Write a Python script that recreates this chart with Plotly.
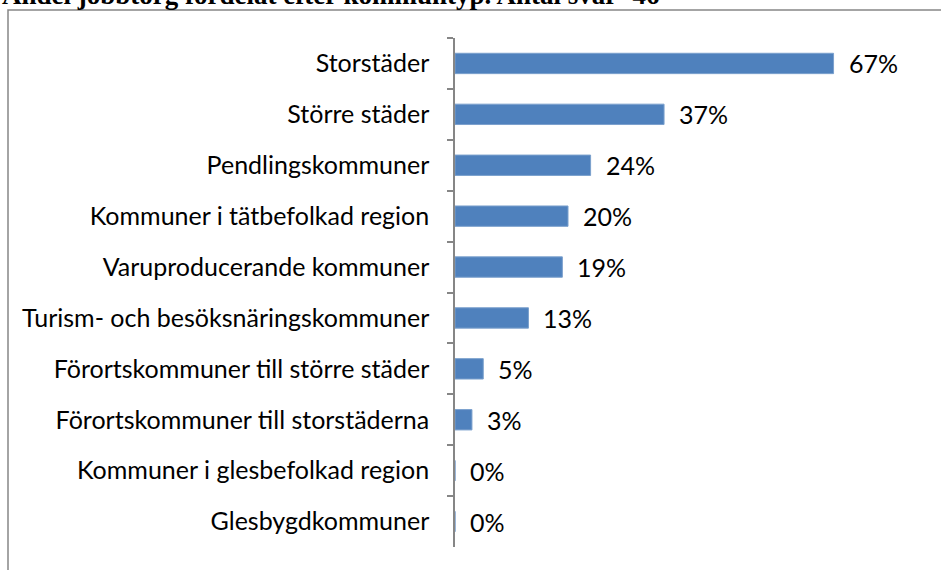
import plotly.graph_objects as go

categories = [
    "Storstäder",
    "Större städer",
    "Pendlingskommuner",
    "Kommuner i tätbefolkad region",
    "Varuproducerande kommuner",
    "Turism- och besöksnäringskommuner",
    "Förortskommuner till större städer",
    "Förortskommuner till storstäderna",
    "Kommuner i glesbefolkad region",
    "Glesbygdkommuner",
]
values = [67, 37, 24, 20, 19, 13, 5, 3, 0, 0]
value_labels = [f"{v}%" for v in values]
title_text = "Andel jobbtorg fördelat efter kommuntyp. Antal svar=46"

W, H = 941, 570
ML, MR, MT, MB = 455, 34, 38, 23
LABEL_FONT = dict(family="Lato, Carlito, sans-serif", size=25, color="#000000")

fig = go.Figure()
fig.add_trace(go.Bar(
    y=categories,
    x=values,
    orientation="h",
    marker=dict(color="#4F81BD", line=dict(color="#7BA0CD", width=1)),
    width=0.4,
    hoverinfo="skip",
))

for c, v, t in zip(categories, values, value_labels):
    fig.add_annotation(
        x=v, y=c, text=t, showarrow=False, xanchor="left", xshift=13,
        font=LABEL_FONT,
    )

pw = W - ML - MR
ph = H - MT - MB
fig.add_annotation(
    xref="paper", yref="paper", x=-ML / pw, y=1 + 26 / ph,
    xanchor="left", yanchor="bottom", text=f"<b>{title_text}</b>", showarrow=False,
    font=dict(family="Liberation Serif, Times New Roman, serif", size=27, color="#000000"),
)

fig.add_shape(
    type="rect", xref="paper", yref="paper",
    x0=(8 - ML) / pw, x1=(W + 20 - ML) / pw,
    y0=-(MB + 20) / ph, y1=1 + (MT - 10) / ph,
    line=dict(color="#868686", width=1.5), fillcolor="rgba(0,0,0,0)", layer="below",
)

fig.update_layout(
    width=W, height=H,
    margin=dict(l=ML, r=MR, t=MT, b=MB),
    paper_bgcolor="white", plot_bgcolor="white",
    showlegend=False,
    xaxis=dict(range=[0, 80], visible=False, fixedrange=True),
    yaxis=dict(
        autorange="reversed", automargin=False,
        showline=True, linecolor="#868686", linewidth=1.5,
        ticks="outside", tickson="boundaries", ticklen=6, tickcolor="#868686", tickwidth=1.5,
        ticklabelstandoff=19,
        tickfont=LABEL_FONT,
        showgrid=False, fixedrange=True,
    ),
)

fig.write_html(
    "out.html",
    config={"displayModeBar": False},
    post_script="document.body.style.margin='0';document.body.style.overflow='hidden';",
)
